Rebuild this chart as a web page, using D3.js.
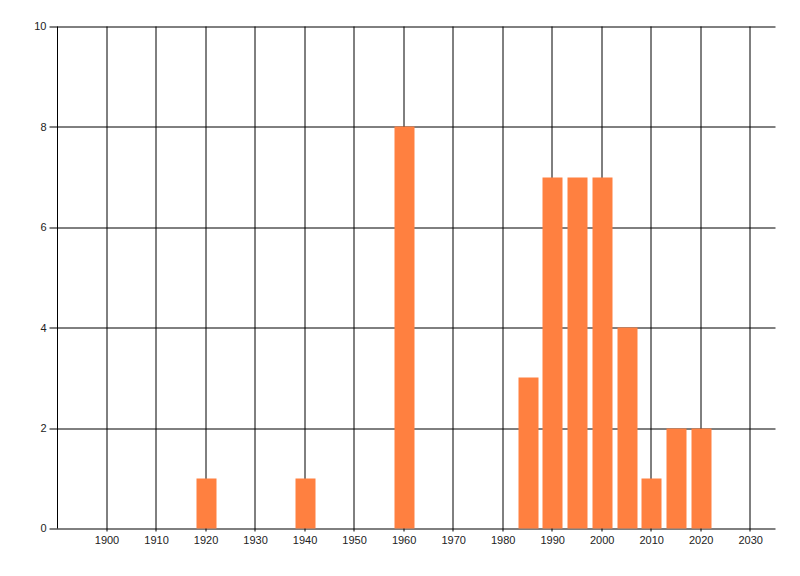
<!DOCTYPE html>
<html>
<head>
<meta charset="utf-8">
<script src="https://cdn.jsdelivr.net/npm/d3@7"></script>
<style>
  body { margin: 0; background: #fff; }
  svg text { font-family: "Liberation Sans", Arial, sans-serif; font-size: 11px; fill: #222; }
</style>
</head>
<body>
<div id="chart"></div>
<script>
// Data
const years = [1920, 1940, 1960, 1985, 1990, 1995, 2000, 2005, 2010, 2015, 2020];
const counts = [1, 1, 8, 3, 7, 7, 7, 4, 1, 2, 2];
const xTicks = [1900, 1910, 1920, 1930, 1940, 1950, 1960, 1970, 1980, 1990, 2000, 2010, 2020, 2030];
const yTicks = [0, 2, 4, 6, 8, 10];

const W = 800, H = 576;
const margin = { top: 26.5, right: 24.5, bottom: 47.5, left: 57.5 };
const width = W - margin.left - margin.right;
const height = H - margin.top - margin.bottom;

const svg = d3.select("#chart")
  .append("svg")
  .attr("width", W)
  .attr("height", H)
  .append("g")
  .attr("transform", `translate(${margin.left},${margin.top})`);

const x = d3.scaleLinear().domain([1890, 2035]).range([0, width]);
const y = d3.scaleLinear().domain([0, 10]).range([height, 0]);

// Grid lines
svg.selectAll("line.hgrid")
  .data(yTicks)
  .enter()
  .append("line")
  .attr("class", "hgrid")
  .attr("x1", -8)
  .attr("x2", width)
  .attr("y1", d => Math.round(y(d)) + 0.5)
  .attr("y2", d => Math.round(y(d)) + 0.5)
  .style("stroke", "#000")
  .style("stroke-width", 1);

svg.selectAll("line.vgrid")
  .data(xTicks)
  .enter()
  .append("line")
  .attr("class", "vgrid")
  .attr("x1", d => Math.round(x(d)) - 0.5)
  .attr("x2", d => Math.round(x(d)) - 0.5)
  .attr("y1", 0)
  .attr("y2", height + 3)
  .style("stroke", "#000")
  .style("stroke-width", 1);

// Left axis line
svg.append("line")
  .attr("x1", 0).attr("x2", 0)
  .attr("y1", 0).attr("y2", height)
  .style("stroke", "#000");

// Bars
const barW = x(1894) - x(1890);
svg.selectAll("rect.bar")
  .data(years.map((yr, i) => ({ year: yr, count: counts[i] })))
  .enter()
  .append("rect")
  .attr("class", "bar")
  .attr("x", d => Math.round(x(d.year) - barW / 2))
  .attr("y", d => Math.round(y(d.count)))
  .attr("width", Math.round(barW))
  .attr("height", d => Math.round(height - y(d.count)))
  .style("fill", "#FF8040");

// Tick labels
svg.selectAll("text.ylab")
  .data(yTicks)
  .enter()
  .append("text")
  .attr("class", "ylab")
  .attr("x", -11)
  .attr("y", d => y(d))
  .attr("dy", "0.35em")
  .attr("text-anchor", "end")
  .text(d => d);

svg.selectAll("text.xlab")
  .data(xTicks)
  .enter()
  .append("text")
  .attr("class", "xlab")
  .attr("x", d => x(d))
  .attr("y", height + 12)
  .attr("dy", "0.35em")
  .attr("text-anchor", "middle")
  .text(d => d);
</script>
</body>
</html>
